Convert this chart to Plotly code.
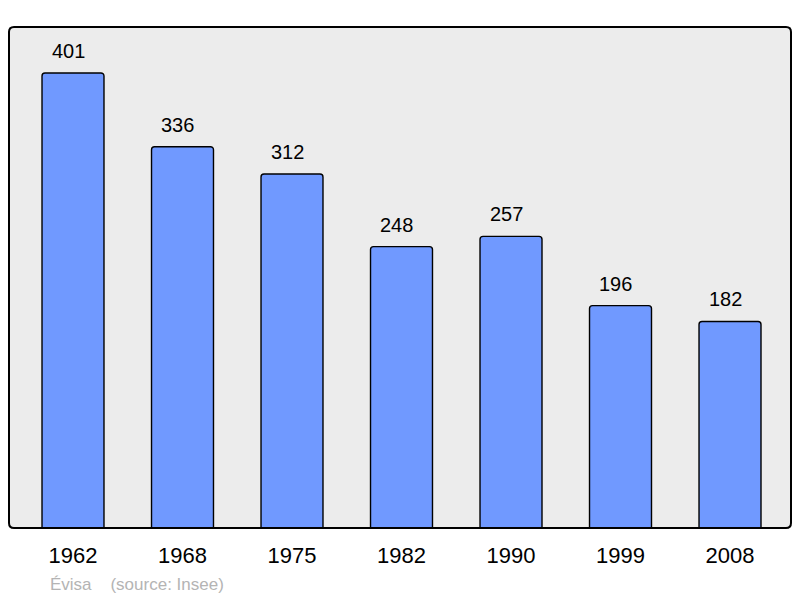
import plotly.graph_objects as go

years = ["1962", "1968", "1975", "1982", "1990", "1999", "2008"]
population = [401, 336, 312, 248, 257, 196, 182]

W, H = 800, 598
ML, MR, MT, MB = 9, 9, 27, 70
pw, ph = W - ML - MR, H - MT - MB
FONT = "Liberation Sans, Arial, sans-serif"

fig = go.Figure()
fig.add_trace(go.Bar(
    x=years, y=population,
    width=0.566,
    marker=dict(color="#7099ff", line=dict(color="#000000", width=1.4), cornerradius=3),
    hoverinfo="x+y",
))

for i, (yr, v) in enumerate(zip(years, population)):
    fig.add_annotation(x=i, y=v, text=str(v), showarrow=False,
                       yanchor="bottom", yshift=9, xshift=-5,
                       font=dict(family=FONT, size=20, color="#000000"))

# rounded border of plot area
rx, ry = 5 / pw, 5 / ph
path = (f"M {rx},0 L {1-rx},0 Q 1,0 1,{ry} L 1,{1-ry} Q 1,1 {1-rx},1 "
        f"L {rx},1 Q 0,1 0,{1-ry} L 0,{ry} Q 0,0 {rx},0 Z")
fig.add_shape(type="path", path=path, xref="paper", yref="paper",
              line=dict(color="#000000", width=2), fillcolor="rgba(0,0,0,0)", layer="above")

fig.add_annotation(xref="paper", yref="paper", x=(48 - ML) / pw, y=-(584 - (MT + ph)) / ph,
                   text="Évisa\u00a0\u00a0\u00a0\u00a0(source: Insee)", showarrow=False,
                   xanchor="left", yanchor="middle",
                   font=dict(family=FONT, size=17, color="#b4b4b4"))

fig.update_layout(
    width=W, height=H,
    margin=dict(l=ML, r=MR, t=MT, b=MB),
    paper_bgcolor="#ffffff",
    plot_bgcolor="#ececec",
    showlegend=False,
    xaxis=dict(type="category", range=[-0.5845, 6.557], showgrid=False, zeroline=False,
               showline=False, ticks="outside", ticklen=8, tickcolor="rgba(0,0,0,0)",
               tickfont=dict(family=FONT, size=22, color="#000000")),
    yaxis=dict(range=[0, 441.5], showgrid=False, zeroline=False, showticklabels=False,
               showline=False, ticks=""),
)

fig.write_html("out.html", config={"displayModeBar": False},
               post_script="document.body.style.margin='0';document.body.style.padding='0';")
